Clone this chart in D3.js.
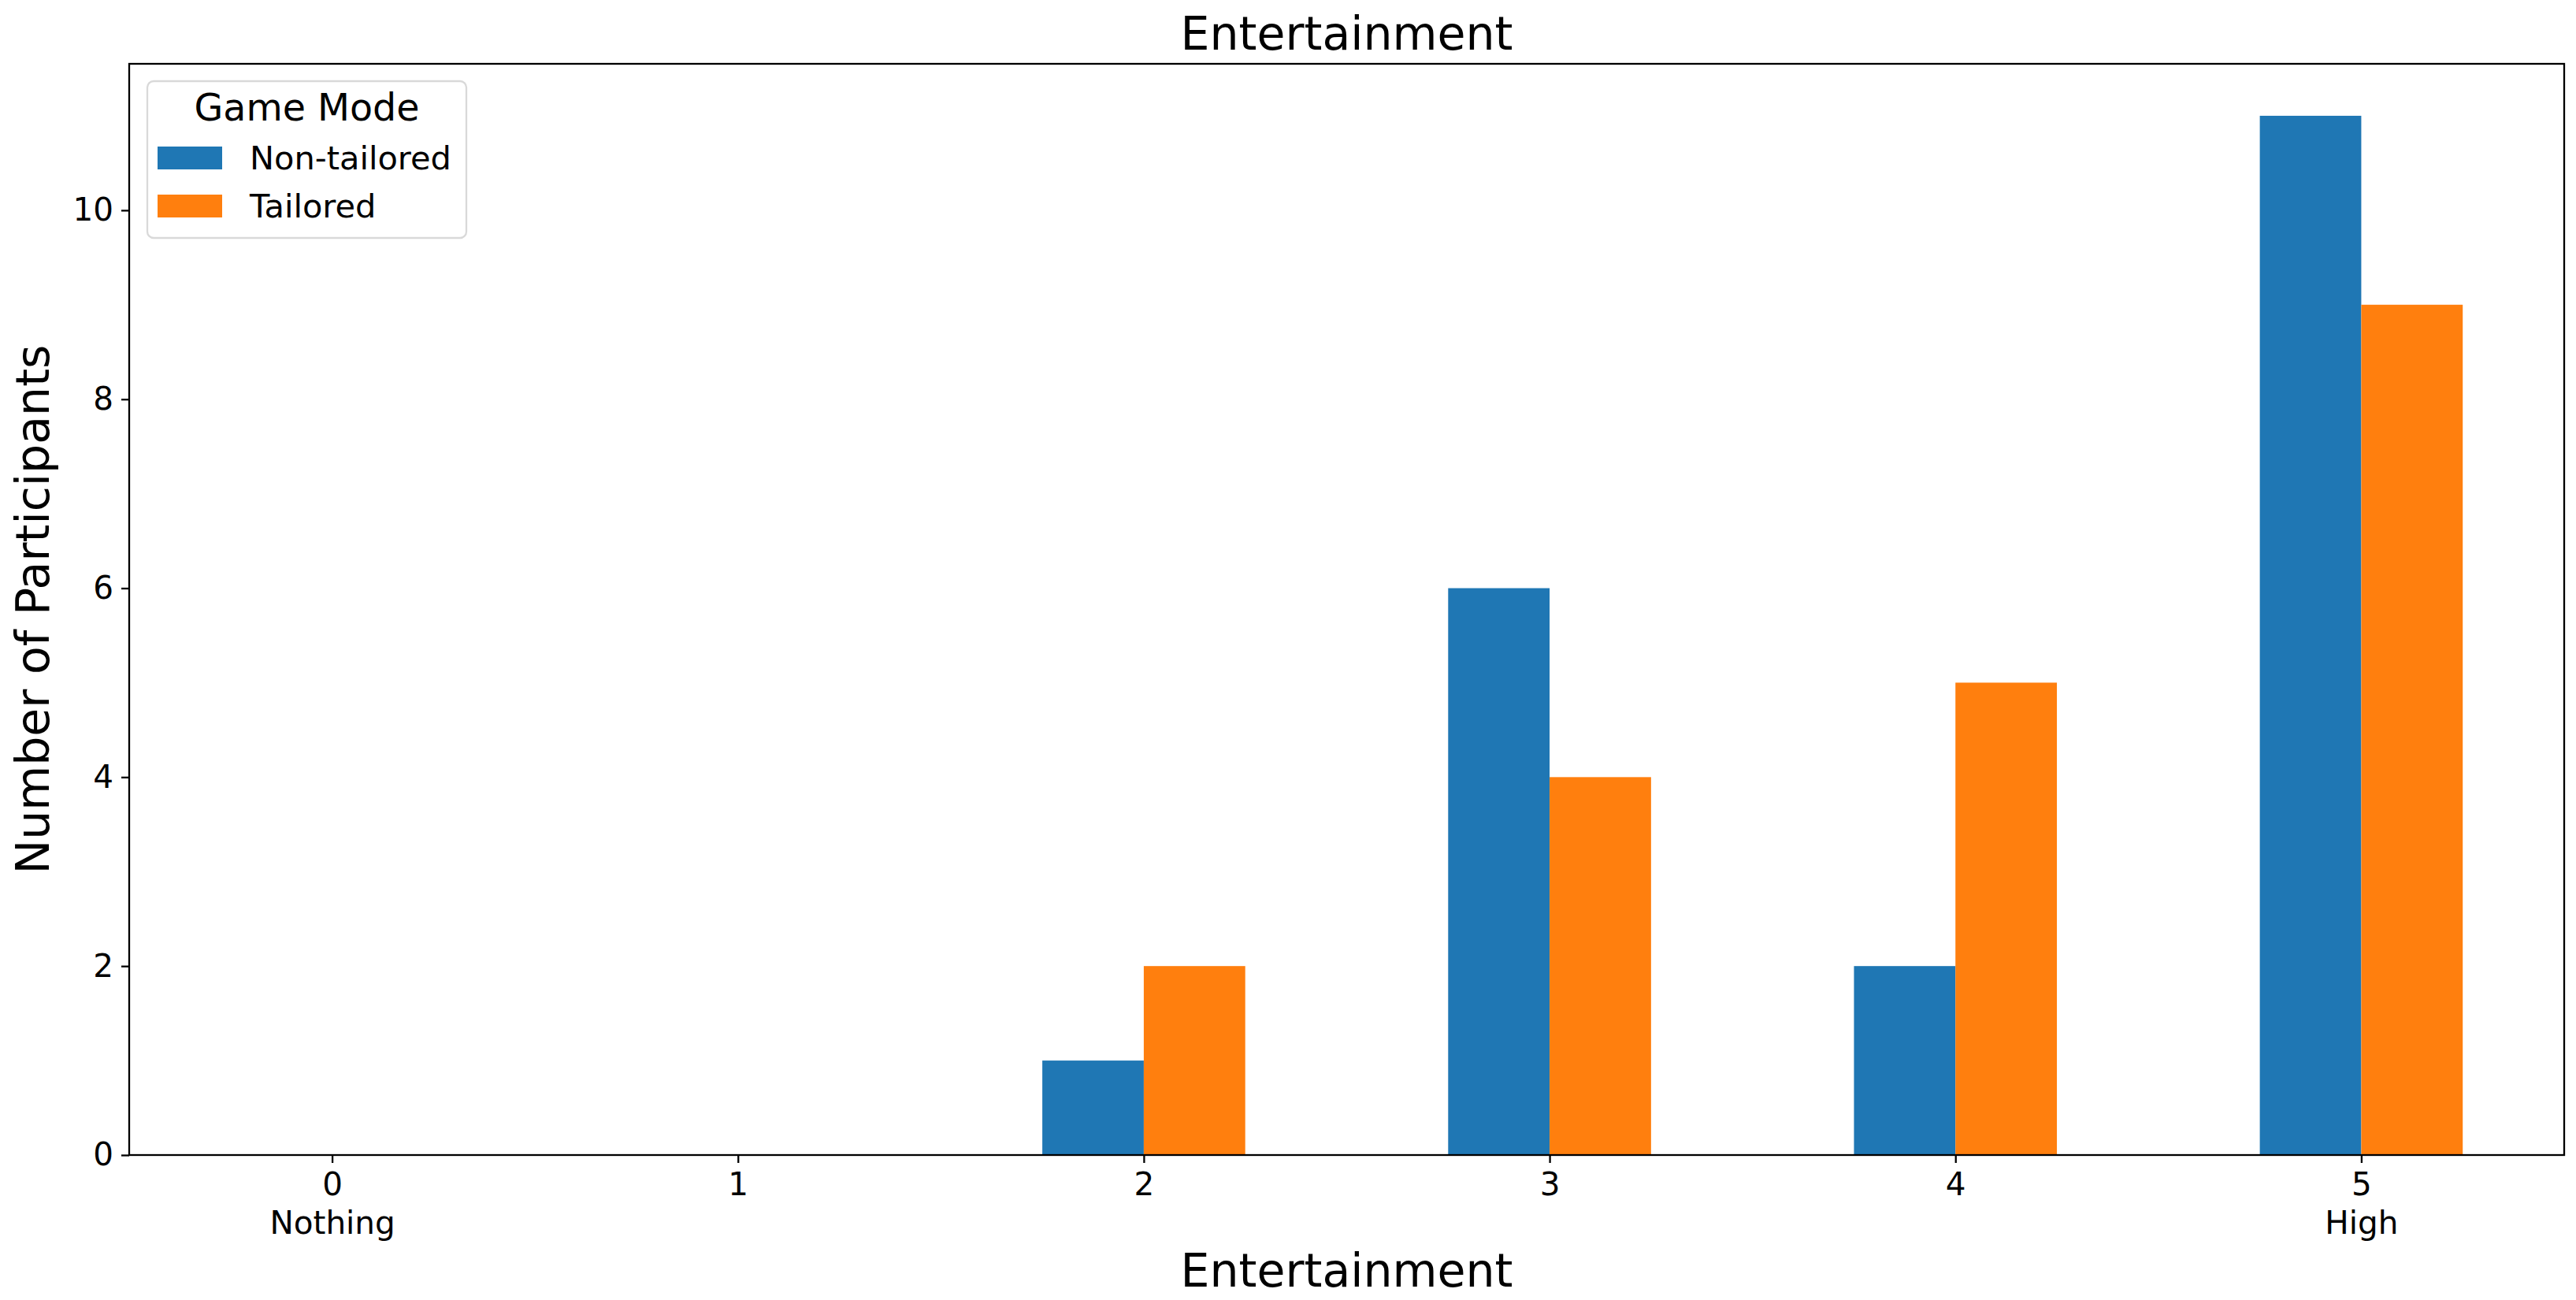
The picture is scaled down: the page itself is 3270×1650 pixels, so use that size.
<!DOCTYPE html>
<html lang="en">
<head>
    <meta charset="UTF-8">
    <title>Entertainment</title>
    <script src="https://d3js.org/d3.v7.min.js"></script>
    <style>
        body {
            margin: 0;
            padding: 0;
            background: #ffffff;
        }
        svg text {
            font-family: "DejaVu Sans", sans-serif;
            fill: #000000;
        }
        .axis path, .axis line {
            stroke: #000000;
            stroke-width: 2.3px;
        }
    </style>
</head>
<body>
    <div id="chart"></div>
    <script>
        // Data
        const categories = [0, 1, 2, 3, 4, 5];
        const tickLabels = [['0', 'Nothing'], ['1'], ['2'], ['3'], ['4'], ['5', 'High']];
        const seriesNames = ['Non-tailored', 'Tailored'];
        const nonTailored = [0, 0, 1, 6, 2, 11];
        const tailored = [0, 0, 2, 4, 5, 9];
        const yTicks = [0, 2, 4, 6, 8, 10];
        const colors = ['#1f77b4', '#ff7f0e'];

        const width = 3270;
        const height = 1650;
        const margin = { top: 81, right: 15, bottom: 184, left: 164 };

        const svg = d3.select('#chart')
            .append('svg')
            .attr('width', width)
            .attr('height', height);

        // Scales: pandas bar plot puts categories at integers, xlim -0.5..n-0.5
        const x = d3.scaleLinear()
            .domain([-0.5, categories.length - 0.5])
            .range([margin.left, width - margin.right]);

        const maxVal = d3.max([...nonTailored, ...tailored]);
        const y = d3.scaleLinear()
            .domain([0, maxVal * 1.05])
            .range([height - margin.bottom, margin.top]);

        const barW = 0.25;
        const series = [nonTailored, tailored];

        // Bars
        series.forEach((vals, s) => {
            svg.append('g')
                .selectAll('rect')
                .data(categories)
                .join('rect')
                .attr('x', d => x(d - barW + s * barW))
                .attr('y', (d, i) => y(vals[i]))
                .attr('width', x(barW) - x(0))
                .attr('height', (d, i) => y(0) - y(vals[i]))
                .attr('fill', colors[s]);
        });

        // Y axis
        svg.append('g')
            .attr('class', 'axis')
            .attr('transform', `translate(${margin.left},0)`)
            .call(d3.axisLeft(y).tickValues(yTicks).tickSize(10).tickPadding(10).tickFormat(d3.format('d')))
            .call(g => g.select('.domain').remove())
            .selectAll('text')
            .style('font-size', '40.5px')
            .style('font-family', '"DejaVu Sans", sans-serif');

        // X axis
        const xAxis = svg.append('g')
            .attr('class', 'axis')
            .attr('transform', `translate(0,${height - margin.bottom})`)
            .call(d3.axisBottom(x).tickValues(categories).tickSize(10).tickPadding(10).tickFormat(''))
            .call(g => g.select('.domain').remove());

        xAxis.selectAll('.tick').each(function (d, i) {
            const t = d3.select(this).append('text')
                .attr('text-anchor', 'middle')
                .style('font-size', '40.5px');
            tickLabels[i].forEach((line, j) => {
                t.append('tspan')
                    .attr('x', 0)
                    .attr('y', 51 + j * 48.6)
                    .text(line);
            });
        });

        // Frame (all four spines)
        svg.append('rect')
            .attr('x', margin.left)
            .attr('y', margin.top)
            .attr('width', width - margin.right - margin.left)
            .attr('height', height - margin.bottom - margin.top)
            .attr('fill', 'none')
            .attr('stroke', '#000000')
            .attr('stroke-width', 2.3);

        const cx = (margin.left + width - margin.right) / 2;
        const cy = (margin.top + height - margin.bottom) / 2;

        // Title
        svg.append('text')
            .attr('x', cx)
            .attr('y', 63)
            .attr('text-anchor', 'middle')
            .style('font-size', '58.5px')
            .text('Entertainment');

        // X label
        svg.append('text')
            .attr('x', cx)
            .attr('y', 1633)
            .attr('text-anchor', 'middle')
            .style('font-size', '58.5px')
            .text('Entertainment');

        // Y label
        svg.append('text')
            .attr('transform', `translate(62,${cy}) rotate(-90)`)
            .attr('text-anchor', 'middle')
            .style('font-size', '58.5px')
            .text('Number of Participants');

        // Legend
        const legend = svg.append('g');
        legend.append('rect')
            .attr('x', 187)
            .attr('y', 103)
            .attr('width', 405)
            .attr('height', 199)
            .attr('rx', 8)
            .attr('fill', '#ffffff')
            .attr('fill-opacity', 0.8)
            .attr('stroke', '#d9d9d9')
            .attr('stroke-width', 2.3);

        legend.append('text')
            .attr('x', 389.5)
            .attr('y', 153)
            .attr('text-anchor', 'middle')
            .style('font-size', '47.5px')
            .text('Game Mode');

        const items = legend.selectAll('g.item')
            .data(seriesNames)
            .join('g')
            .attr('class', 'item')
            .attr('transform', (d, i) => `translate(0,${i * 61})`);

        items.append('rect')
            .attr('x', 200)
            .attr('y', 186)
            .attr('width', 82)
            .attr('height', 29)
            .attr('fill', (d, i) => colors[i]);

        items.append('text')
            .attr('x', 317)
            .attr('y', 215)
            .style('font-size', '41.5px')
            .text(d => d);
    </script>
</body>
</html>
